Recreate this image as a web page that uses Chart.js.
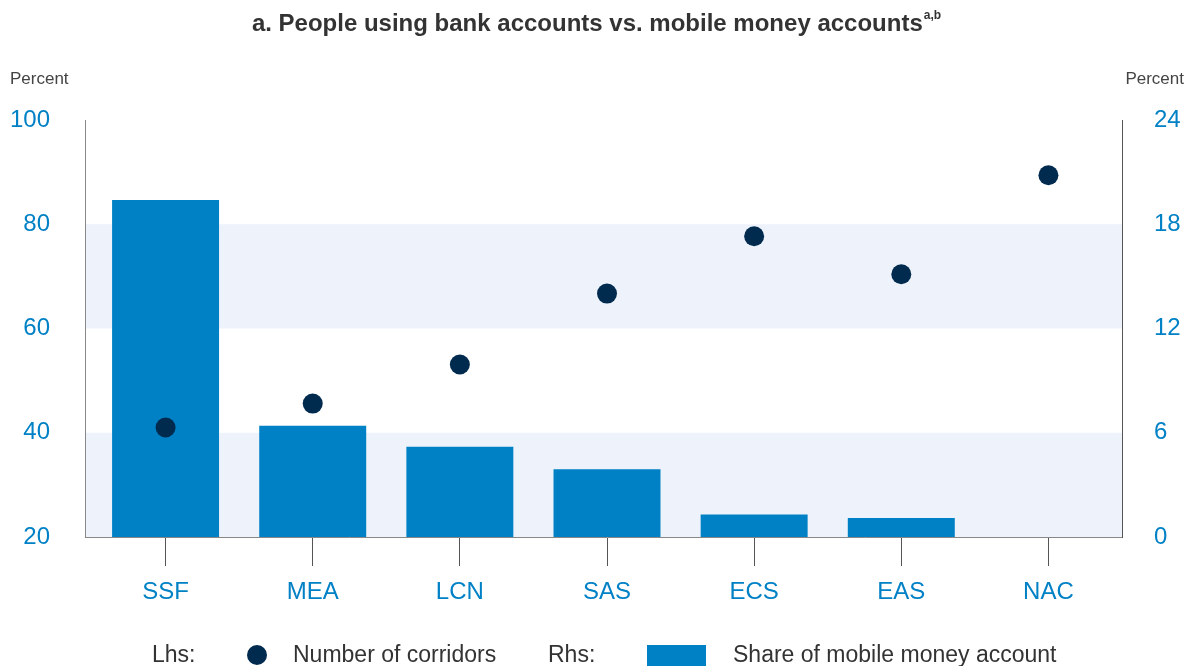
<!DOCTYPE html>
<html>
<head>
<meta charset="utf-8">
<script src="https://cdn.jsdelivr.net/npm/chart.js@4"></script>
<style>
  html, body { margin: 0; padding: 0; background: #fff; }
  #wrap { width: 1188px; height: 666px; position: relative; }
</style>
</head>
<body>
<div id="wrap"><canvas id="chart" width="1188" height="666"></canvas></div>
<script>
const regions = ["SSF", "MEA", "LCN", "SAS", "ECS", "EAS", "NAC"];
// Lhs: number of corridors (dots)
const corridors = [41.0, 45.6, 53.1, 66.7, 77.7, 70.4, 89.4];
// Rhs: share of mobile money account (bars)
const mobileShare = [19.4, 6.4, 5.2, 3.9, 1.3, 1.1, null];
const leftTicks = [20, 40, 60, 80, 100];
const rightTicks = [0, 6, 12, 18, 24];
const shadedBands = [[20, 40], [60, 80]];

const FONT = "'Liberation Sans', Arial, sans-serif";
const BLUE = "#0081c6";
const NAVY = "#002b4f";
const TEXT = "#333333";
const AXIS_X = 85; // left axis line sits a little left of the plot area

const bandsPlugin = {
  id: "bands",
  beforeDatasetsDraw(chart) {
    const ctx = chart.ctx, a = chart.chartArea, y = chart.scales.y;
    ctx.save();
    ctx.fillStyle = "#eef3fb";
    shadedBands.forEach(([lo, hi]) => {
      const top = y.getPixelForValue(hi), bot = y.getPixelForValue(lo);
      ctx.fillRect(AXIS_X, top, a.right - AXIS_X, bot - top);
    });
    ctx.restore();
  },
  afterDatasetsDraw(chart) {
    const ctx = chart.ctx, a = chart.chartArea;
    ctx.save();
    ctx.strokeStyle = "#555";
    ctx.lineWidth = 1;
    ctx.beginPath();
    ctx.moveTo(AXIS_X + 0.5, a.top);
    ctx.lineTo(AXIS_X + 0.5, a.bottom);
    ctx.moveTo(AXIS_X, a.bottom + 0.5);
    ctx.lineTo(a.left, a.bottom + 0.5);
    ctx.strokeStyle = "#888";
    ctx.stroke();
    ctx.restore();
  }
};

const textPlugin = {
  id: "texts",
  afterDraw(chart) {
    const ctx = chart.ctx;
    ctx.save();
    // title
    const main = "a. People using bank accounts vs. mobile money accounts";
    ctx.font = "bold 24px " + FONT;
    const w1 = ctx.measureText(main).width;
    ctx.font = "bold 12px " + FONT;
    const w2 = ctx.measureText("a,b").width;
    let x0 = 596 - (w1 + w2) / 2;
    ctx.fillStyle = TEXT;
    ctx.textBaseline = "middle";
    ctx.textAlign = "left";
    ctx.font = "bold 24px " + FONT;
    ctx.fillText(main, x0, 24);
    ctx.font = "bold 12px " + FONT;
    ctx.fillText("a,b", x0 + w1 + 1, 16);

    // axis units
    ctx.font = "17px " + FONT;
    ctx.fillStyle = "#444";
    ctx.textAlign = "left";
    ctx.fillText("Percent", 10, 79);
    ctx.textAlign = "right";
    ctx.fillText("Percent", 1184, 79);

    // legend
    ctx.font = "23px " + FONT;
    ctx.fillStyle = TEXT;
    ctx.textAlign = "left";
    ctx.fillText("Lhs:", 152, 656);
    ctx.fillText("Number of corridors", 293, 656);
    ctx.fillText("Rhs:", 548, 656);
    ctx.fillText("Share of mobile money account", 733, 656);
    ctx.fillStyle = NAVY;
    ctx.beginPath();
    ctx.arc(257, 655, 10, 0, Math.PI * 2);
    ctx.fill();
    ctx.fillStyle = BLUE;
    ctx.fillRect(647, 645, 59, 25);
    ctx.restore();
  }
};

new Chart(document.getElementById("chart"), {
  data: {
    labels: regions,
    datasets: [
      {
        type: "line",
        label: "Number of corridors",
        data: corridors,
        yAxisID: "y",
        showLine: false,
        pointRadius: 10,
        pointHoverRadius: 10,
        pointBackgroundColor: NAVY,
        pointBorderWidth: 0,
        order: 0
      },
      {
        type: "bar",
        label: "Share of mobile money account",
        data: mobileShare,
        yAxisID: "y1",
        backgroundColor: BLUE,
        categoryPercentage: 1,
        barPercentage: 0.727,
        order: 1
      }
    ]
  },
  options: {
    responsive: false,
    animation: false,
    layout: { padding: { top: 120, bottom: 0, left: 0, right: 0 } },
    plugins: {
      legend: { display: false },
      title: { display: false },
      tooltip: { enabled: false }
    },
    scales: {
      x: {
        offset: true,
        grid: { display: true, offset: false, drawOnChartArea: false, drawTicks: true, tickLength: 29, color: "#555", lineWidth: 1 },
        border: { display: true, color: "#888", width: 1 },
        ticks: { color: BLUE, font: { family: FONT, size: 24 }, padding: 12 },
        afterFit(s) { s.height = 129; }
      },
      y: {
        position: "left",
        min: 20,
        max: 100,
        afterBuildTicks(s) { s.ticks = leftTicks.map(v => ({ value: v })); },
        grid: { display: false, drawTicks: false },
        border: { display: false },
        ticks: { color: BLUE, font: { family: FONT, size: 24 }, padding: 42 },
        afterFit(s) { s.width = 92; }
      },
      y1: {
        position: "right",
        min: 0,
        max: 24,
        afterBuildTicks(s) { s.ticks = rightTicks.map(v => ({ value: v })); },
        grid: { display: false, drawTicks: false },
        border: { display: true, color: "#555", width: 1 },
        ticks: { color: BLUE, font: { family: FONT, size: 24 }, padding: 32 },
        afterFit(s) { s.width = 66; }
      }
    }
  },
  plugins: [bandsPlugin, textPlugin]
});
</script>
</body>
</html>
